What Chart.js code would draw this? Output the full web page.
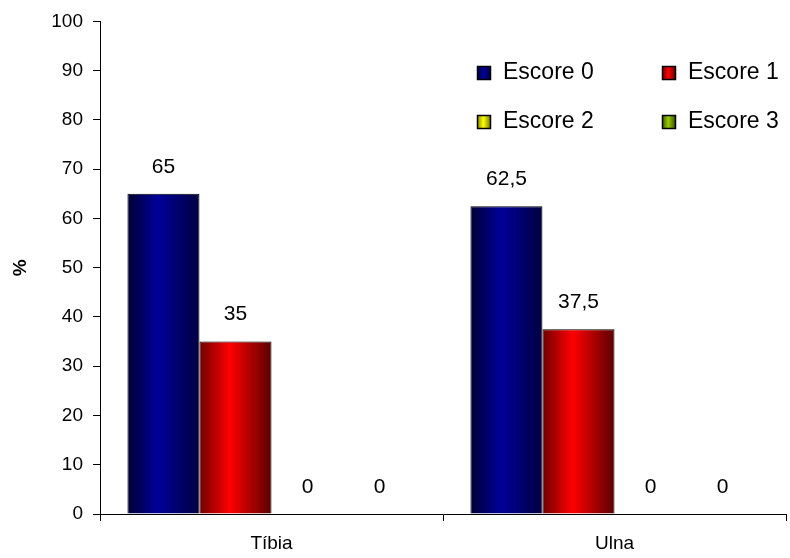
<!DOCTYPE html>
<html>
<head>
<meta charset="utf-8">
<script src="https://cdn.jsdelivr.net/npm/chart.js@4"></script>
<style>
  html, body { margin: 0; padding: 0; background: #fff; }
  #wrap { width: 790px; height: 558px; }
</style>
</head>
<body>
<div id="wrap"><canvas id="barChart" width="790" height="558"></canvas></div>
<script>
// data
const categories = ['Tíbia', 'Ulna'];
const seriesNames = ['Escore 0', 'Escore 1', 'Escore 2', 'Escore 3'];
const escore0 = [65, 62.5];
const escore1 = [35, 37.5];
const escore2 = [0, 0];
const escore3 = [0, 0];
const yTicks = [0, 10, 20, 30, 40, 50, 60, 70, 80, 90, 100];

// gradient stops per series: edge, middle, other edge
const shades = [
    ['#000033', '#00009a', '#000040'],
    ['#700000', '#ff0000', '#5a0000'],
    ['#808000', '#ffff00', '#707000'],
    ['#3a5a00', '#99cc00', '#304800'],
];
const FONT = 'Arial, "Liberation Sans", sans-serif';
const CAT_PCT = 0.84;

function barGradient(c) {
    const chart = c.chart;
    const x = chart.scales.x;
    const s = shades[c.datasetIndex];
    if (!x || !chart.chartArea) return s[1];
    const catW = (x.right - x.left) / categories.length;
    const barW = catW * CAT_PCT / seriesNames.length;
    const center = x.getPixelForValue(c.dataIndex);
    const left = center - catW * CAT_PCT / 2 + c.datasetIndex * barW;
    const g = chart.ctx.createLinearGradient(left, 0, left + barW, 0);
    g.addColorStop(0, s[0]);
    g.addColorStop(0.42, s[1]);
    g.addColorStop(1, s[2]);
    return g;
}

const valueLabels = {
    id: 'valueLabels',
    afterDatasetsDraw(chart) {
        const ctx = chart.ctx;
        ctx.save();
        ctx.font = '21px ' + FONT;
        ctx.fillStyle = '#000';
        ctx.textAlign = 'center';
        ctx.textBaseline = 'middle';
        chart.data.datasets.forEach((ds, i) => {
            chart.getDatasetMeta(i).data.forEach((el, j) => {
                ctx.fillText(String(ds.data[j]).replace('.', ','), el.x, el.y - 27);
            });
        });
        ctx.restore();
    }
};

const cornerLegend = {
    id: 'cornerLegend',
    afterDraw(chart) {
        const ctx = chart.ctx;
        ctx.save();
        ctx.font = '23px ' + FONT;
        ctx.textBaseline = 'middle';
        const cols = [477, 662];
        const rows = [73, 122];
        chart.data.datasets.forEach((ds, i) => {
            const bx = cols[i % 2], by = rows[Math.floor(i / 2)];
            const s = shades[i];
            const g = ctx.createLinearGradient(bx, 0, bx + 14, 0);
            g.addColorStop(0, s[0]);
            g.addColorStop(0.45, s[1]);
            g.addColorStop(1, s[2]);
            ctx.fillStyle = g;
            ctx.fillRect(bx, by - 7, 14, 14);
            ctx.strokeStyle = '#000';
            ctx.lineWidth = 1.5;
            ctx.strokeRect(bx + 0.5, by - 6.5, 13, 13);
            ctx.fillStyle = '#000';
            ctx.fillText(ds.label, bx + 26, by);
        });
        ctx.restore();
    }
};

const datasets = [escore0, escore1, escore2, escore3].map((d, i) => ({
    label: seriesNames[i],
    data: d,
    backgroundColor: barGradient,
    borderColor: '#000',
    borderWidth: 1,
    borderSkipped: 'bottom',
    categoryPercentage: CAT_PCT,
    barPercentage: 1,
}));

new Chart(document.getElementById('barChart').getContext('2d'), {
    type: 'bar',
    data: { labels: categories, datasets: datasets },
    options: {
        responsive: false,
        animation: false,
        layout: { padding: { left: 0, right: 4, top: 20, bottom: 0 } },
        plugins: {
            legend: { display: false },
            tooltip: { enabled: false },
        },
        scales: {
            x: {
                afterFit: (scale) => { scale.height = 44; },
                grid: { display: true, offset: true, drawOnChartArea: false, drawTicks: true, tickLength: 7, color: '#000' },
                border: { display: true, color: '#000' },
                ticks: { color: '#000', font: { family: FONT, size: 19 }, padding: 11 },
            },
            y: {
                min: 0,
                max: 100,
                afterBuildTicks: (scale) => { scale.ticks = yTicks.map(v => ({ value: v })); },
                afterFit: (scale) => { scale.width = 100; },
                grid: { display: true, drawOnChartArea: false, drawTicks: true, tickLength: 7, color: '#000' },
                border: { display: true, color: '#000' },
                ticks: { color: '#000', font: { family: FONT, size: 19 }, padding: 10 },
                title: { display: true, text: '%', color: '#000', font: { family: FONT, size: 19, weight: 'bold' }, padding: { top: 9, bottom: 0 } },
            },
        },
    },
    plugins: [valueLabels, cornerLegend],
});
</script>
</body>
</html>
